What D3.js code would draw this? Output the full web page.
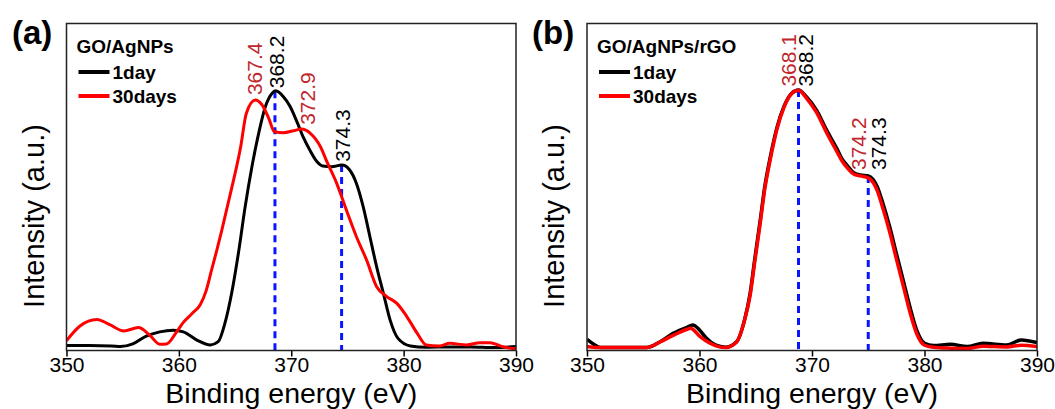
<!DOCTYPE html>
<html>
<head>
<meta charset="utf-8">
<script src="https://cdn.jsdelivr.net/npm/d3@7"></script>
<style>
  body { margin: 0; background: #fff; }
  svg { display: block; font-family: "Liberation Sans", Arial, sans-serif; }
</style>
</head>
<body>
<div id="container"></div>
<script>
/* DATA */
const xTicks = [350, 360, 370, 380, 390];
const seriesNames = ["1day", "30days"];

// panel (a) GO/AgNPs : [binding energy, intensity]
const goAg1day = [
  [350.0, 1.5], [352.0, 1.5], [354.0, 1.4], [354.8, 1.2], [355.9, 2.0], [357.1, 4.4],
  [358.3, 5.7], [359.5, 6.2], [360.4, 5.7], [361.6, 3.2], [362.8, 1.7], [363.5, 2.7],
  [364.1, 8.4], [364.7, 17.6], [365.3, 29.8], [365.9, 44.0], [366.5, 56.2], [367.1, 66.4],
  [367.7, 74.6], [368.3, 78.7], [368.6, 79.4], [369.3, 77.6], [369.9, 74.6], [370.5, 70.0],
  [371.1, 65.0], [371.7, 61.0], [372.3, 57.7], [372.8, 56.4], [373.6, 56.2], [374.5, 56.7],
  [375.2, 55.2], [375.8, 51.1], [376.4, 44.0], [377.0, 34.8], [377.6, 25.6], [378.2, 17.5],
  [378.8, 9.3], [379.5, 3.7], [380.6, 1.4], [382.0, 1.0], [384.0, 1.1], [386.0, 1.1],
  [388.0, 0.9], [390.0, 1.2]
];
const goAg30days = [
  [350.0, 3.0], [351.2, 7.5], [352.7, 9.5], [353.9, 7.8], [355.1, 6.0], [356.4, 7.0],
  [357.4, 4.7], [358.3, 1.9], [358.9, 2.0], [359.8, 5.7], [360.4, 8.6], [361.2, 11.4],
  [361.9, 14.0], [362.4, 18.0], [362.9, 24.5], [363.4, 31.0], [363.8, 36.5], [364.6, 48.2],
  [365.5, 62.3], [366.0, 72.5], [366.8, 76.6], [367.4, 75.1], [368.0, 71.0], [368.5, 66.9],
  [369.3, 66.6], [370.2, 67.2], [370.9, 67.7], [371.7, 66.4], [372.6, 62.3], [373.2, 57.5],
  [374.0, 51.5], [374.9, 43.0], [375.8, 34.8], [376.7, 27.7], [377.6, 19.5], [378.5, 16.5],
  [379.4, 14.4], [380.3, 10.3], [381.2, 5.3], [382.0, 1.7], [383.2, 1.4], [384.1, 2.2],
  [385.6, 1.7], [386.8, 2.4], [387.7, 2.4], [388.6, 1.4], [389.5, 0.7], [390.0, 0.6]
];

// panel (b) GO/AgNPs/rGO
const goAgRgo1day = [
  [350.0, 3.4], [350.6, 1.9], [351.2, 0.9], [353.0, 0.9], [355.3, 0.9], [356.5, 2.7],
  [357.7, 5.3], [358.9, 7.1], [359.4, 7.8], [360.0, 6.3], [360.6, 3.8], [361.4, 1.7],
  [362.3, 1.0], [363.3, 2.7], [364.0, 9.3], [364.5, 17.5], [364.9, 27.7], [365.4, 39.9],
  [365.8, 50.1], [366.3, 59.3], [366.9, 68.4], [367.5, 74.6], [368.2, 78.7], [368.8, 79.7],
  [369.5, 77.6], [370.4, 73.5], [371.3, 67.4], [372.2, 61.8], [372.7, 58.4], [373.1, 56.7],
  [373.7, 54.4], [374.3, 53.7], [375.0, 53.4], [375.8, 50.1], [376.3, 45.0], [376.9, 37.9],
  [377.5, 29.7], [378.1, 21.6], [378.7, 13.4], [379.3, 6.3], [380.0, 2.2], [380.8, 1.5],
  [382.3, 1.9], [383.8, 1.2], [385.2, 2.2], [387.3, 1.7], [388.6, 3.2], [390.0, 2.4]
];
const goAgRgo30days = [
  [350.0, 1.2], [351.0, 0.9], [353.0, 0.9], [355.3, 0.9], [356.5, 2.6], [357.7, 4.7],
  [358.9, 6.5], [359.2, 6.8], [360.0, 4.4], [360.6, 2.9], [361.4, 1.5], [362.3, 0.9],
  [363.3, 2.6], [364.0, 9.2], [364.5, 16.8], [364.9, 26.8], [365.4, 39.0], [365.8, 49.3],
  [366.3, 58.6], [366.9, 67.9], [367.5, 74.3], [368.2, 78.6], [368.8, 79.6], [369.5, 77.2],
  [370.4, 72.8], [371.3, 66.6], [372.2, 60.9], [372.7, 57.8], [373.1, 56.0], [373.7, 54.0],
  [374.3, 53.4], [375.0, 52.8], [375.8, 48.9], [376.3, 43.5], [376.9, 36.3], [377.5, 28.0],
  [378.1, 19.9], [378.7, 11.8], [379.3, 5.2], [380.0, 1.6], [380.8, 1.0], [382.3, 0.7],
  [383.8, 0.6], [385.2, 1.3], [387.3, 1.1], [388.6, 1.6], [390.0, 1.2]
];

// peak labels: text, which series, anchor energy, anchor intensity
const peaksA = [
  { text: "367.4", series: "30days", e: 366.71, i: 78.1 },
  { text: "368.2", series: "1day", e: 368.64, i: 80.2 },
  { text: "372.9", series: "30days", e: 371.44, i: 69.0 },
  { text: "374.3", series: "1day", e: 374.57, i: 57.7 }
];
const peaksB = [
  { text: "368.1", series: "30days", e: 367.89, i: 80.7 },
  { text: "368.2", series: "1day", e: 369.38, i: 80.7 },
  { text: "374.2", series: "30days", e: 374.12, i: 55.2 },
  { text: "374.3", series: "1day", e: 375.89, i: 55.2 }
];

// blue dashed markers: [energy, intensity at top]
const markersA = [[368.55, 79.3], [374.48, 56.7]];
const markersB = [[368.8, 79.7], [375.0, 53.4]];

/* CONSTANTS AND GLOBALS */
const width = 1055, height = 409;
const plotTop = 23.5, plotBottom = 350.5;
const colors = { "1day": "#000000", "30days": "#ff0000" };
const labelColors = { "1day": "#000000", "30days": "#c0272d" };

const panels = [
  { tag: "(a)", title: "GO/AgNPs", left: 66.5, right: 516, tagX: 12,
    series: [goAg1day, goAg30days], peaks: peaksA, markers: markersA, lw: 3 },
  { tag: "(b)", title: "GO/AgNPs/rGO", left: 587, right: 1037, tagX: 532,
    series: [goAgRgo1day, goAgRgo30days], peaks: peaksB, markers: markersB, lw: 3.5 }
];

const svg = d3.select("#container")
  .append("svg")
  .attr("width", width)
  .attr("height", height);

panels.forEach((p, pi) => {
  /* SCALES */
  const xScale = d3.scaleLinear().domain([350, 390]).range([p.left, p.right]);
  const yScale = d3.scaleLinear().domain([0, 100]).range([plotBottom, plotTop]);

  const g = svg.append("g");

  g.append("clipPath").attr("id", "clip" + pi)
    .append("rect")
    .attr("x", p.left).attr("y", plotTop)
    .attr("width", p.right - p.left).attr("height", plotBottom - plotTop);

  // axis
  const xAxis = d3.axisBottom(xScale).tickValues(xTicks).tickSize(6).tickPadding(1);
  const ax = g.append("g")
    .attr("transform", `translate(0,${plotBottom})`)
    .call(xAxis);
  ax.select(".domain").remove();
  ax.selectAll(".tick line").attr("stroke", "#000").attr("stroke-width", 1.5);
  ax.selectAll(".tick text")
    .attr("fill", "#000")
    .style("font-size", "21px")
    .style("font-family", "'Liberation Sans', Arial, sans-serif");

  // dashed markers
  g.selectAll(".marker")
    .data(p.markers)
    .join("line")
    .attr("x1", d => xScale(d[0])).attr("x2", d => xScale(d[0]))
    .attr("y1", d => yScale(d[1])).attr("y2", plotBottom)
    .attr("stroke", "#0a14ff")
    .attr("stroke-width", 3)
    .attr("stroke-dasharray", "7,5");

  // curves
  const line = d3.line()
    .x(d => xScale(d[0]))
    .y(d => yScale(d[1]))
    .curve(d3.curveMonotoneX);

  g.append("g").attr("clip-path", `url(#clip${pi})`)
    .selectAll("path")
    .data(p.series)
    .join("path")
    .attr("d", line)
    .attr("fill", "none")
    .attr("stroke", (d, i) => colors[seriesNames[i]])
    .attr("stroke-width", p.lw)
    .attr("stroke-linejoin", "round");

  // frame
  g.append("rect")
    .attr("x", p.left).attr("y", plotTop)
    .attr("width", p.right - p.left).attr("height", plotBottom - plotTop)
    .attr("fill", "none")
    .attr("stroke", "#222")
    .attr("stroke-width", 1.5);

  // peak labels
  g.selectAll(".peak")
    .data(p.peaks)
    .join("text")
    .attr("transform", d => `translate(${xScale(d.e)},${yScale(d.i)}) rotate(-90)`)
    .attr("dy", "0.36em")
    .attr("fill", d => labelColors[d.series])
    .style("font-size", "21px")
    .text(d => d.text);

  // legend
  const lx = p.left + 10;
  g.append("text")
    .attr("x", lx).attr("y", 52.5)
    .style("font-size", "19px").style("font-weight", "bold")
    .text(p.title);
  seriesNames.forEach((s, i) => {
    const ly = 72 + i * 24;
    g.append("line")
      .attr("x1", lx + 2).attr("x2", lx + 33)
      .attr("y1", ly).attr("y2", ly)
      .attr("stroke", colors[s]).attr("stroke-width", 4);
    g.append("text")
      .attr("x", lx + 36).attr("y", ly + 6.5)
      .style("font-size", "19px").style("font-weight", "bold")
      .text(s);
  });

  // axis titles
  g.append("text")
    .attr("x", (p.left + p.right) / 2).attr("y", 402.5)
    .attr("text-anchor", "middle")
    .style("font-size", "28.5px")
    .text("Binding energy (eV)");
  g.append("text")
    .attr("transform", `translate(${p.left - 23},216) rotate(-90)`)
    .attr("text-anchor", "middle")
    .style("font-size", "29px")
    .text("Intensity (a.u.)");

  // panel tag
  g.append("text")
    .attr("x", p.tagX).attr("y", 44)
    .style("font-size", "33px").style("font-weight", "bold")
    .text(p.tag);
});
</script>
</body>
</html>
